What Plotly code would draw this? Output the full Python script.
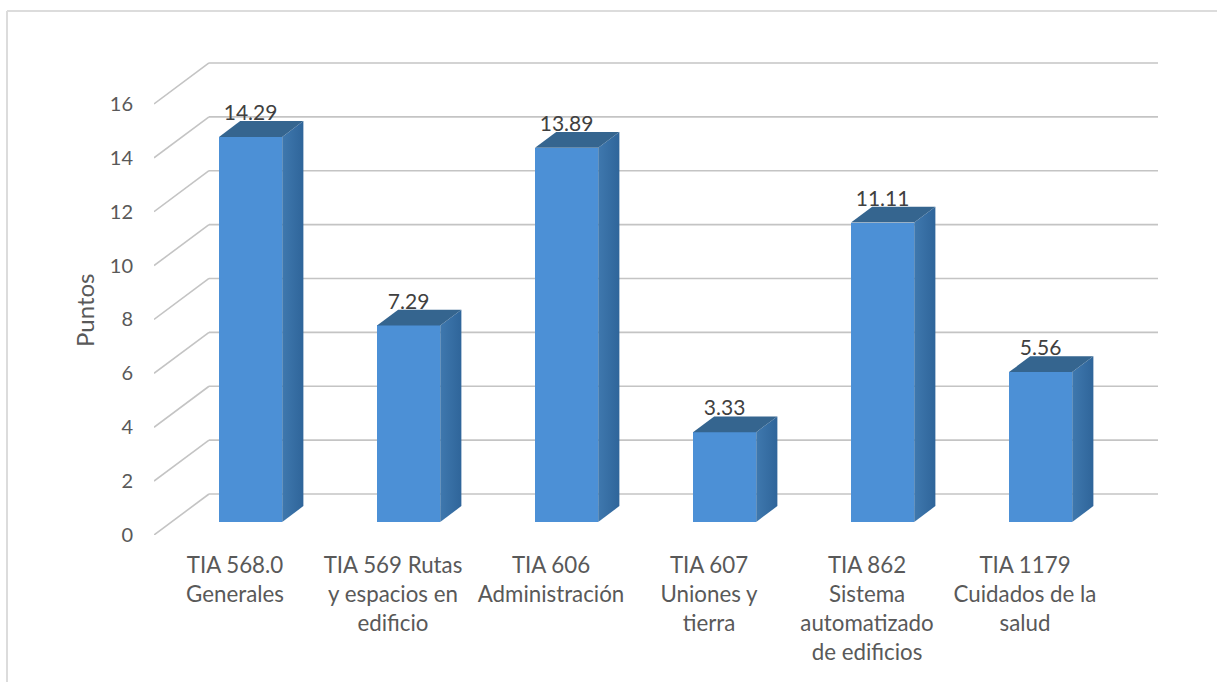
import plotly.graph_objects as go

categories = ["TIA 568.0<br>Generales", "TIA 569 Rutas<br>y espacios en<br>edificio", "TIA 606<br>Administración",
              "TIA 607<br>Uniones y<br>tierra", "TIA 862<br>Sistema<br>automatizado<br>de edificios", "TIA 1179<br>Cuidados de la<br>salud"]
values = [14.29, 7.29, 13.89, 3.33, 11.11, 5.56]
value_labels = ["14.29", "7.29", "13.89", "3.33", "11.11", "5.56"]
y_ticks = [0, 2, 4, 6, 8, 10, 12, 14, 16]

FONT = "Lato, Carlito, sans-serif"
TXT = "#595959"
W, H = 1217, 682
L, R, T, B = 154, 1158, 62, 535
CAT_PX = 158.0
UNIT_PX = 26.94
DX = 55 / CAT_PX      # wall depth in category units
DY = 41 / UNIT_PX     # wall depth in value units
F0, F1 = 0.32, 0.705  # bar front/back position inside the depth
BAR_W = 0.4
x_min = -0.5
x_max = x_min + (R - L) / CAT_PX
y_max = (B - T) / UNIT_PX

fig = go.Figure()
xs = [i + F0 * DX for i in range(len(values))]
fig.add_bar(x=xs, y=values, base=[F0 * DY] * 6, width=BAR_W,
            marker=dict(color="#4C90D6", line=dict(width=0)), showlegend=False, hoverinfo="skip")
dx = (F1 - F0) * DX
dy = (F1 - F0) * DY
for x, v in zip(xs, values):
    y0 = F0 * DY
    xr = x + BAR_W / 2
    xl = x - BAR_W / 2
    fig.add_scatter(x=[xr, xr + dx, xr + dx, xr, xr], y=[y0, y0 + dy, y0 + dy + v, y0 + v, y0],
                    mode="lines", fill="toself", line=dict(width=0),
                    fillgradient=dict(type="horizontal",
                                      colorscale=[[0, "#3F78AE"], [1, "#2F659A"]]),
                    showlegend=False, hoverinfo="skip")
    fig.add_scatter(x=[xl, xl + dx, xr + dx, xr, xl], y=[y0 + v, y0 + v + dy, y0 + v + dy, y0 + v, y0 + v],
                    mode="lines", fill="toself", fillcolor="#35658F", line=dict(width=0),
                    showlegend=False, hoverinfo="skip")
fig.add_scatter(x=xs, y=[F0 * DY + v + 0.82 for v in values], mode="text", text=value_labels,
                textposition="middle center", textfont=dict(family=FONT, size=21, color="#404040"),
                showlegend=False, hoverinfo="skip")

shapes = []
for t in y_ticks:
    grid = dict(color="#C4C4C4", width=1.6)
    shapes.append(dict(type="line", xref="x", yref="y", layer="below", x0=x_min, y0=t, x1=x_min + DX, y1=t + DY, line=grid))
    shapes.append(dict(type="line", xref="x", yref="y", layer="below", x0=x_min + DX, y0=t + DY, x1=x_max, y1=t + DY, line=grid))
border = dict(color="#DCDCDC", width=2)
shapes.append(dict(type="line", xref="paper", yref="paper", x0=-(L - 7) / (R - L), x1=(W - L) / (R - L),
                   y0=(B - 11) / (B - T), y1=(B - 11) / (B - T), line=border))
shapes.append(dict(type="line", xref="paper", yref="paper", x0=-(L - 7) / (R - L), x1=-(L - 7) / (R - L),
                   y0=(B - 11) / (B - T), y1=-(H - B) / (B - T), line=border))

fig.update_layout(
    width=W, height=H, margin=dict(l=L, r=W - R, t=T, b=H - B, autoexpand=False),
    paper_bgcolor="white", plot_bgcolor="white", showlegend=False, shapes=shapes, bargap=0,
    font=dict(family=FONT, color=TXT, size=20),
    xaxis=dict(range=[x_min, x_max], tickmode="array", tickvals=list(range(6)),
               ticktext=categories, tickangle=0, showgrid=False, zeroline=False,
               showline=False, ticks="", ticklabelstandoff=15, ticklabelshift=2,
               tickfont=dict(family=FONT, size=22.3, color=TXT), automargin=False),
    yaxis=dict(range=[0, y_max], tickmode="array", tickvals=y_ticks, ticktext=[str(t) for t in y_ticks],
               showgrid=False, zeroline=False, showline=False, ticks="", ticklabelstandoff=20,
               tickfont=dict(family=FONT, size=20, color=TXT), automargin=False),
    annotations=[dict(text="Puntos", textangle=-90, xref="paper", yref="paper", showarrow=False,
                      x=-(L - 84) / (R - L), y=(B - 311) / (B - T), xanchor="center", yanchor="middle",
                      font=dict(family=FONT, size=24, color=TXT))],
)
fig.write_html("out.html", config={"displayModeBar": False}, post_script="document.body.style.margin='0';")
